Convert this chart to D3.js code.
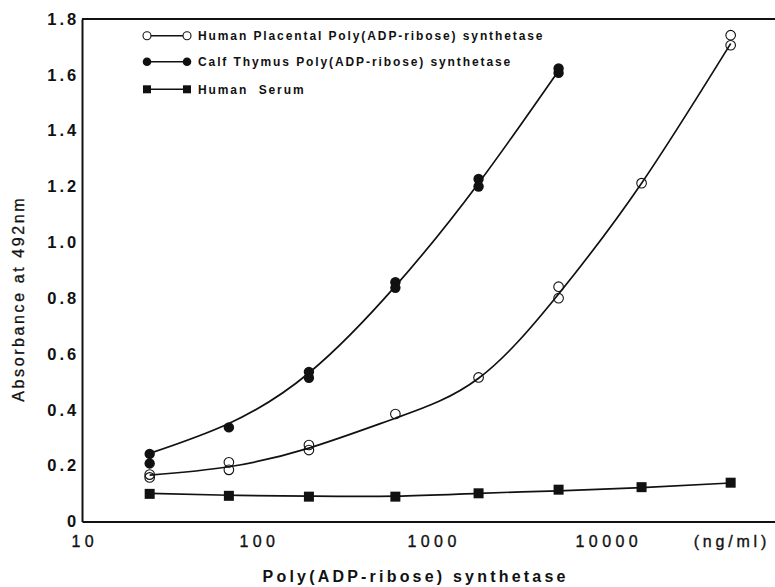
<!DOCTYPE html>
<html><head><meta charset="utf-8">
<script src="https://cdn.jsdelivr.net/npm/d3@7"></script>
<style>body{margin:0;background:#fff}svg{display:block}</style>
</head><body><svg id="c" width="775" height="587"></svg>
<script>
// ---- data ----
const concentrations = [24.4, 69.3, 199, 622, 1862, 5346, 15960, 51640]; // ng/ml
const placentalRep1 = [0.168, 0.212, 0.274, 0.385, 0.516, 0.841, 1.212, 1.742];
const placentalRep2 = [0.158, 0.185, 0.256, null, null, 0.800, null, 1.706];
const placentalCurve = [0.166, 0.196, 0.263, 0.370, 0.513, 0.815, 1.212, 1.712];
const calfRep1 = [0.242, 0.337, 0.536, 0.857, 1.227, 1.623];
const calfRep2 = [0.208, null, 0.515, 0.837, 1.200, 1.607];
const calfCurve = [0.244, 0.351, 0.532, 0.843, 1.212, 1.615];
const serumValues = [0.099, 0.092, 0.089, 0.089, 0.101, 0.114, 0.123, 0.139];
const serumCurve = [0.101, 0.094, 0.091, 0.091, 0.101, 0.110, 0.121, 0.138];
const yTicks = [0, 0.2, 0.4, 0.6, 0.8, 1.0, 1.2, 1.4, 1.6, 1.8];
const yTickLabels = ["0", "0.2", "0.4", "0.6", "0.8", "1.0", "1.2", "1.4", "1.6", "1.8"];
const xTicks = [10, 100, 1000, 10000];
const xTickLabels = ["10", "100", "1000", "10000"];
const xUnitLabel = "(ng/ml)";
const legendLabels = ["Human Placental Poly(ADP-ribose) synthetase",
                      "Calf Thymus Poly(ADP-ribose) synthetase",
                      "Human  Serum"];
const xTitle = "Poly(ADP-ribose) synthetase";
const yTitle = "Absorbance at 492nm";

// ---- drawing ----
const svg = d3.select("#c");
const FONT = "'Liberation Sans', Arial, Helvetica, sans-serif";
const x = d3.scaleLog().domain([10, 100000]).range([82, 82 + 4 * 174.7]);
const y = d3.scaleLinear().domain([0, 1.8]).range([521.5, 19]);

// axes
const yAxis = svg.append("g").attr("transform", "translate(82,0)")
  .call(d3.axisLeft(y).tickValues(yTicks).tickFormat((d, i) => yTickLabels[i]).tickSize(0).tickPadding(3));
yAxis.select(".domain").attr("stroke", "#111").attr("stroke-width", 2);
yAxis.selectAll("text").attr("font-family", FONT).attr("font-size", 16.5).attr("font-weight", "bold")
  .attr("letter-spacing", "2.9px").attr("fill", "#111");

const xAxis = svg.append("g").attr("transform", `translate(0,${y(0)})`)
  .call(d3.axisBottom(x).tickValues(xTicks).tickFormat((d, i) => xTickLabels[i]).tickSize(0).tickPadding(14));
xAxis.select(".domain").attr("stroke", "#111").attr("stroke-width", 2);
xAxis.selectAll("text").attr("font-family", FONT).attr("font-size", 16)
  .attr("letter-spacing", "4.4px").attr("dx", "2.2px").attr("fill", "#111")
  .attr("stroke", "#111").attr("stroke-width", 0.35);

// top frame line
svg.append("line").attr("x1", 82).attr("x2", 775).attr("y1", y(1.8)).attr("y2", y(1.8))
  .attr("stroke", "#111").attr("stroke-width", 2);

// unit label
svg.append("text").attr("x", 730).attr("y", y(0) + 14).attr("dy", "0.71em")
  .attr("text-anchor", "middle").attr("font-family", FONT).attr("font-size", 16)
  .attr("letter-spacing", "3.8px").attr("dx", "1.9px").attr("fill", "#111")
  .attr("stroke", "#111").attr("stroke-width", 0.35).text(xUnitLabel);

// axis titles
svg.append("text").attr("x", 414).attr("y", 581.5).attr("text-anchor", "middle")
  .attr("font-family", FONT).attr("font-size", 16).attr("font-weight", "bold")
  .attr("letter-spacing", "3.2px").attr("dx", "1.6px").attr("fill", "#111").text(xTitle);
svg.append("text").attr("transform", "translate(23.5,300) rotate(-90)").attr("text-anchor", "middle")
  .attr("font-family", FONT).attr("font-size", 16).attr("fill", "#111")
  .attr("letter-spacing", "2.6px").attr("dx", "1.3px")
  .attr("stroke", "#111").attr("stroke-width", 0.3).text(yTitle);

// curves
const line = d3.line().x(d => x(d[0])).y(d => y(d[1])).curve(d3.curveNatural);
function drawCurve(vals) {
  svg.append("path").datum(vals.map((v, i) => [concentrations[i], v]))
    .attr("d", line).attr("fill", "none").attr("stroke", "#111").attr("stroke-width", 1.7);
}
drawCurve(placentalCurve);
drawCurve(calfCurve);
drawCurve(serumCurve);

// points
function pts(vals) {
  return vals.map((v, i) => [concentrations[i], v]).filter(d => d[1] !== null);
}
const R = 5.2;
svg.append("g").selectAll("circle").data(pts(calfRep1).concat(pts(calfRep2))).join("circle")
  .attr("cx", d => x(d[0])).attr("cy", d => y(d[1])).attr("r", R).attr("fill", "#111");
svg.append("g").selectAll("circle").data(pts(placentalRep1).concat(pts(placentalRep2))).join("circle")
  .attr("cx", d => x(d[0])).attr("cy", d => y(d[1])).attr("r", R - 0.4)
  .attr("fill", "none").attr("stroke", "#111").attr("stroke-width", 1.1);
const S = 10;
svg.append("g").selectAll("rect").data(pts(serumValues)).join("rect")
  .attr("x", d => x(d[0]) - S / 2).attr("y", d => y(d[1]) - S / 2).attr("width", S).attr("height", S)
  .attr("fill", "#111");

// legend
const legY = [35.7, 61.7, 89.3];
const lg = svg.append("g");
legendLabels.forEach((lab, i) => {
  const yy = legY[i];
  lg.append("line").attr("x1", 147).attr("x2", 187).attr("y1", yy).attr("y2", yy)
    .attr("stroke", "#111").attr("stroke-width", 1.5);
  [147, 187].forEach(cx => {
    if (i === 0) lg.append("circle").attr("cx", cx).attr("cy", yy).attr("r", 4)
      .attr("fill", "#fff").attr("stroke", "#111").attr("stroke-width", 1.1);
    else if (i === 1) lg.append("circle").attr("cx", cx).attr("cy", yy).attr("r", 4.3).attr("fill", "#111");
    else lg.append("rect").attr("x", cx - 4).attr("y", yy - 4).attr("width", 8).attr("height", 8).attr("fill", "#111");
  });
  lg.append("text").attr("x", 198).attr("y", yy + 4.3).attr("font-family", FONT)
    .attr("font-size", 12).attr("font-weight", "bold").attr("letter-spacing", "1.9px")
    .attr("fill", "#111").style("white-space", "pre").text(lab);
});
</script></body></html>
